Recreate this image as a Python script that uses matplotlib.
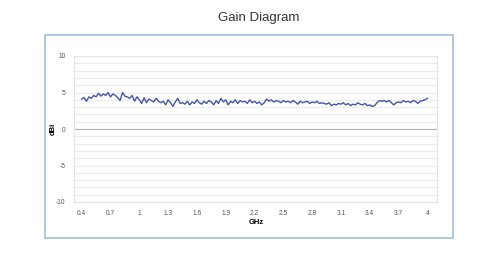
import numpy as np
import matplotlib
matplotlib.use("Agg")
import matplotlib.pyplot as plt
from matplotlib.patches import Rectangle

plt.rcParams['font.family'] = ['Liberation Sans', 'DejaVu Sans']
plt.rcParams['axes.unicode_minus'] = False

# frequency sweep (GHz) and measured gain (dBi)
freq_start, freq_step = 0.4, 0.025
gain = [
    4.1, 4.3, 3.8, 4.4, 4.2, 4.6, 4.4, 4.9, 4.5, 4.8, 4.6, 5.0,
    4.4, 4.8, 4.6, 4.3, 3.9, 5.0, 4.5, 4.4, 4.2, 4.6, 3.8, 4.4,
    4.0, 3.5, 4.3, 3.6, 4.1, 3.9, 3.7, 4.2, 3.8, 3.6, 3.8, 3.3,
    4.0, 3.6, 3.1, 3.7, 4.2, 3.5, 3.6, 3.4, 3.8, 3.3, 3.7, 3.5,
    4.0, 3.6, 3.4, 3.8, 3.5, 3.9, 3.7, 3.3, 3.9, 3.5, 4.2, 3.7,
    4.0, 3.3, 3.8, 3.6, 4.0, 3.5, 3.9, 3.7, 3.8, 3.5, 4.0, 3.6,
    3.8, 3.5, 3.7, 3.3, 3.6, 4.1, 3.8, 4.0, 3.7, 3.9, 3.8, 3.6,
    3.9, 3.7, 3.8, 3.6, 3.9, 3.7, 3.4, 3.8, 3.6, 3.7, 3.8, 3.5,
    3.7, 3.6, 3.8, 3.5, 3.6, 3.5, 3.4, 3.6, 3.2, 3.4, 3.3, 3.5,
    3.4, 3.6, 3.3, 3.5, 3.2, 3.4, 3.3, 3.6, 3.4, 3.3, 3.5, 3.2,
    3.3, 3.1, 3.2, 3.6, 3.9, 3.8, 3.9, 3.7, 3.9, 3.6, 3.3, 3.6,
    3.7, 3.6, 3.9, 3.7, 3.8, 3.6, 3.9, 3.8, 3.5, 3.8, 3.9, 4.0,
    4.2,
]
freq = freq_start + freq_step * np.arange(len(gain))

x_ticks = [0.4, 0.7, 1, 1.3, 1.6, 1.9, 2.2, 2.5, 2.8, 3.1, 3.4, 3.7, 4]
x_tick_labels = ['0.4', '0.7', '1', '1.3', '1.6', '1.9', '2.2', '2.5', '2.8', '3.1', '3.4', '3.7', '4']
y_ticks = [-10, -5, 0, 5, 10]

fig = plt.figure(figsize=(4.88, 2.63), dpi=100)

# outer frame around the chart
fig.patches.append(Rectangle((45 / 488, 1 - 238 / 263), 408 / 488, 203 / 263,
                             transform=fig.transFigure, fill=False,
                             edgecolor='#a9c3db', linewidth=1.3))

ax = fig.add_axes([74 / 488, 1 - 202 / 263, 363 / 488, 146 / 263])

# light grid every 1 dB
for y in range(-10, 11):
    ax.axhline(y, color='#b0b0b0' if y == 0 else '#ebebeb', linewidth=0.8, zorder=0)

ax.plot(freq, gain, color='#4456aa', linewidth=1.0)

ax.set_xlim(0.32, 4.1)
ax.set_ylim(-10, 10)
ax.set_xticks(x_ticks)
ax.set_xticklabels(x_tick_labels)
ax.set_yticks(y_ticks)
ax.tick_params(length=0, labelsize=4.8, labelcolor='#555555', pad=6)
for s in ax.spines.values():
    s.set_color('#e4e4e4')
    s.set_linewidth(0.8)

# axis titles placed directly
fig.text(256 / 488, 1 - 222 / 263, 'GHz', ha='center', va='center',
         fontsize=5.5, fontweight='bold')
fig.text(53 / 488, 1 - 129 / 263, 'dBi', ha='center', va='center',
         rotation=90, fontsize=5.5, fontweight='bold')

fig.text(259 / 488, 1 - 18 / 263, 'Gain Diagram', ha='center', va='center',
         fontsize=9.5, color='#333333')

fig.savefig('out.png', dpi=100)
